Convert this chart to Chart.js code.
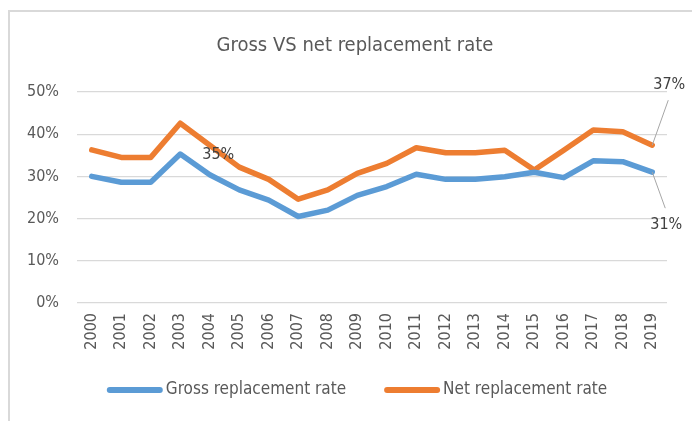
<!DOCTYPE html>
<html>
<head>
<meta charset="utf-8">
<script src="https://cdn.jsdelivr.net/npm/chart.js@4.4.0/dist/chart.umd.min.js"></script>
<style>
  html, body { margin: 0; padding: 0; background: #ffffff; overflow: hidden; width: 692px; height: 421px; }
  #frame { position: absolute; left: 8px; top: 10px; width: 720px; height: 440px;
           border-top: 2px solid #d9d9d9; border-left: 2px solid #d9d9d9; }
  #wrap { position: absolute; left: 0; top: 0; width: 710px; height: 421px; }
</style>
</head>
<body>
<div id="frame"></div>
<div id="wrap"><canvas id="c" width="710" height="421"></canvas></div>
<script>
const titleText = 'Gross VS net replacement rate';
const years = ['2000','2001','2002','2003','2004','2005','2006','2007','2008','2009',
               '2010','2011','2012','2013','2014','2015','2016','2017','2018','2019'];
const grossLabel = 'Gross replacement rate';
const netLabel = 'Net replacement rate';
const gross = [30.0, 28.6, 28.6, 35.3, 30.4, 26.8, 24.4, 20.5, 22.0, 25.5,
               27.6, 30.5, 29.3, 29.3, 29.9, 31.0, 29.7, 33.7, 33.5, 31.0];
const net   = [36.3, 34.5, 34.5, 42.6, 37.4, 32.2, 29.3, 24.6, 26.8, 30.7,
               33.1, 36.8, 35.6, 35.6, 36.2, 31.5, 36.2, 41.0, 40.6, 37.4];
const yTicks = [0, 10, 20, 30, 40, 50];

const FONT = "'DejaVu Sans Condensed', 'Liberation Sans Narrow', sans-serif";
const TXT = '#595959';
const BLUE = '#5b9bd5';
const ORANGE = '#ed7d31';

// data labels: [datasetIndex, pointIndex, dx, dy, leader]
const labelSpecs = [
  { ds: 0, idx: 3,  dx: 38, dy: 1,   leader: false },
  { ds: 1, idx: 19, dx: 17, dy: -60, leader: true, lx: 16, ly: -45 },
  { ds: 0, idx: 19, dx: 14, dy: 53,  leader: true, lx: 13, ly: 36 }
];

// shift the title box so it is centred on the whole Excel-like frame
const titleShift = {
  id: 'titleShift',
  afterLayout(chart) {
    if (chart.titleBlock) {
      chart.titleBlock.left = 43;
      chart.titleBlock.right = 667;
    }
  }
};

const labelPlugin = {
  id: 'labelPlugin',
  afterDatasetsDraw(chart) {
    const ctx = chart.ctx;
    ctx.save();
    labelSpecs.forEach(s => {
      const meta = chart.getDatasetMeta(s.ds);
      const pt = meta.data[s.idx];
      const v = chart.data.datasets[s.ds].data[s.idx];
      if (s.leader) {
        ctx.strokeStyle = '#a6a6a6';
        ctx.lineWidth = 1;
        ctx.beginPath();
        ctx.moveTo(pt.x, pt.y);
        ctx.lineTo(pt.x + s.lx, pt.y + s.ly);
        ctx.stroke();
      }
      ctx.fillStyle = '#404040';
      ctx.font = '16px ' + FONT;
      ctx.textAlign = 'center';
      ctx.textBaseline = 'middle';
      ctx.fillText(Math.round(v) + '%', pt.x + s.dx, pt.y + s.dy);
    });
    ctx.restore();
  }
};

const legendPlugin = {
  id: 'customLegend',
  afterDraw(chart) {
    const ctx = chart.ctx;
    ctx.save();
    ctx.font = '17px ' + FONT;
    const lineW = 56, gapText = 3, gapItem = 38;
    const items = chart.data.datasets.map(d => ({ text: d.label, color: d.borderColor }));
    let total = 0;
    items.forEach((it, i) => {
      it.w = ctx.measureText(it.text).width;
      total += lineW + gapText + it.w + (i < items.length - 1 ? gapItem : 0);
    });
    let x = 357 - total / 2;
    const y = 390;
    items.forEach(it => {
      ctx.strokeStyle = it.color;
      ctx.lineWidth = 6;
      ctx.lineCap = 'round';
      ctx.beginPath();
      ctx.moveTo(x + 3, y);
      ctx.lineTo(x + lineW - 3, y);
      ctx.stroke();
      ctx.fillStyle = TXT;
      ctx.textAlign = 'left';
      ctx.textBaseline = 'middle';
      ctx.fillText(it.text, x + lineW + gapText, y);
      x += lineW + gapText + it.w + gapItem;
    });
    ctx.restore();
  }
};

new Chart(document.getElementById('c'), {
  type: 'line',
  data: {
    labels: years,
    datasets: [
      { label: grossLabel, data: gross, borderColor: BLUE, backgroundColor: BLUE,
        borderWidth: 5.5, pointRadius: 0, tension: 0, borderJoinStyle: 'round', borderCapStyle: 'round' },
      { label: netLabel, data: net, borderColor: ORANGE, backgroundColor: ORANGE,
        borderWidth: 5.5, pointRadius: 0, tension: 0, borderJoinStyle: 'round', borderCapStyle: 'round' }
    ]
  },
  options: {
    responsive: false,
    animation: false,
    devicePixelRatio: 1,
    layout: { padding: { left: 0, right: 43, top: 0, bottom: 58 } },
    plugins: {
      legend: { display: false },
      tooltip: { enabled: false },
      title: {
        display: true,
        text: titleText,
        color: TXT,
        font: { family: FONT, size: 20, weight: 'normal', lineHeight: 1.2 },
        padding: { top: 34, bottom: 34 }
      }
    },
    scales: {
      x: {
        offset: true,
        grid: { display: false, drawTicks: false },
        border: { display: false },
        ticks: { color: TXT, font: { family: FONT, size: 16 }, maxRotation: 90, minRotation: 90, padding: 10, autoSkip: false },
        afterFit(scale) { scale.height = 60; }
      },
      y: {
        min: 0, max: 50,
        afterBuildTicks(scale) { scale.ticks = yTicks.map(v => ({ value: v })); },
        grid: { color: '#d9d9d9', lineWidth: 1.3, drawTicks: false },
        border: { display: false },
        ticks: { color: TXT, font: { family: FONT, size: 16 }, padding: 18, callback: v => v + '%' },
        afterFit(scale) { scale.width = 77; }
      }
    }
  },
  plugins: [titleShift, labelPlugin, legendPlugin]
});
</script>
</body>
</html>
